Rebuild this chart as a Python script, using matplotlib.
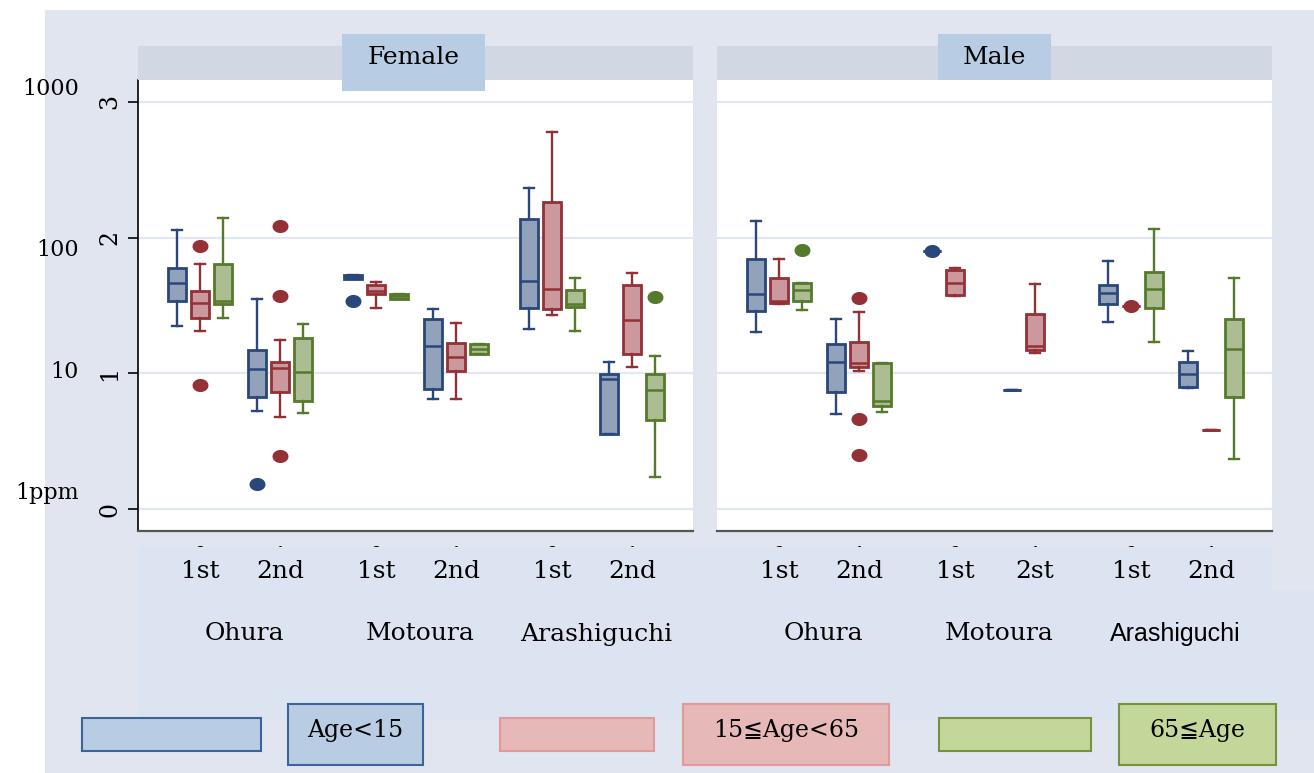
import matplotlib.pyplot as plt
from matplotlib.patches import Rectangle
from matplotlib.transforms import blended_transform_factory
import numpy as np

# concentrations are log10(ppm); each box is (whisker low, q1, median, q3, whisker high)
sites = ["Ohura", "Motoura", "Arashiguchi"]
periods_female = ["1st", "2nd", "1st", "2nd", "1st", "2nd"]
periods_male = ["1st", "2nd", "1st", "2st", "1st", "2nd"]
group_ticks = ["0", "1", "0", "1", "0", "1"]
age_labels = ["Age<15", "15≦Age<65", "65≦Age"]
ppm_labels = ["1000", "100", "10", "1ppm"]

female_young = [(1.351, 1.535, 1.668, 1.774, 2.054),
                (0.722, 0.828, 1.030, 1.172, 1.545),
                (1.695, 1.695, 1.710, 1.725, 1.725),
                (0.811, 0.884, 1.201, 1.398, 1.476),
                (1.324, 1.482, 1.681, 2.140, 2.366),
                (0.550, 0.550, 0.958, 0.997, 1.081)]
female_young_out = [[], [0.182], [1.533], [], [], []]

female_adult = [(1.314, 1.406, 1.516, 1.609, 1.804),
                (0.681, 0.865, 1.042, 1.081, 1.246),
                (1.479, 1.585, 1.609, 1.653, 1.676),
                (0.811, 1.015, 1.123, 1.226, 1.373),
                (1.430, 1.472, 1.624, 2.261, 2.777),
                (1.044, 1.140, 1.393, 1.653, 1.740)]
female_adult_out = [[1.939, 0.914], [2.086, 1.572, 0.388], [], [], [], []]

female_old = [(1.406, 1.513, 1.535, 1.804, 2.143),
              (0.710, 0.798, 1.012, 1.258, 1.364),
              (1.550, 1.550, 1.570, 1.587, 1.587),
              (1.142, 1.142, 1.179, 1.216, 1.216),
              (1.310, 1.487, 1.511, 1.617, 1.700),
              (0.233, 0.658, 0.879, 0.997, 1.125)]
female_old_out = [[], [], [], [], [], [1.565]]

male_young = [(1.307, 1.459, 1.585, 1.840, 2.121),
              (0.700, 0.862, 1.086, 1.214, 1.403),
              (1.902, 1.902, 1.902, 1.902, 1.902),
              (0.879, 0.879, 0.879, 0.879, 0.879),
              (1.378, 1.511, 1.592, 1.651, 1.828),
              (0.890, 0.899, 0.993, 1.081, 1.162)]
male_young_out = [[], [], [1.902], [], [], []]

male_adult = [(1.511, 1.521, 1.535, 1.705, 1.845),
              (1.019, 1.044, 1.078, 1.231, 1.454),
              (1.568, 1.577, 1.668, 1.762, 1.776),
              (1.147, 1.172, 1.204, 1.435, 1.658),
              (1.494, 1.494, 1.494, 1.494, 1.494),
              (0.582, 0.582, 0.582, 0.582, 0.582)]
male_adult_out = [[], [1.553, 0.666, 0.400], [], [], [1.494], []]

male_old = [(1.465, 1.535, 1.612, 1.666, 1.666),
            (0.717, 0.761, 0.794, 1.076, 1.076),
            None,
            None,
            (1.229, 1.484, 1.624, 1.749, 2.062),
            (0.366, 0.828, 1.177, 1.398, 1.705)]
male_old_out = [[1.911], [], [], [], [], []]

edge = ["#29477a", "#933137", "#557a2b"]
fill = ["#93a2bb", "#cb999d", "#acbc93"]
leg_fill = ["#b8cce4", "#e6b8b7", "#c4d79b"]
leg_edge = ["#3d6499", "#e09a9a", "#76923c"]
bg = "#e1e5ef"
label_bg = "#dbe4f0"
strip = "#d1d8e4"
serif = ["DejaVu Serif", "DejaVu Sans", "Noto Sans CJK JP"]

W, H = 1314, 773
fig = plt.figure(figsize=(W / 100, H / 100), dpi=100)
fig.patch.set_facecolor("white")


def px_rect(x0, y0, x1, y1, **kw):
    r = Rectangle((x0 / W, 1 - y1 / H), (x1 - x0) / W, (y1 - y0) / H,
                  transform=fig.transFigure, **kw)
    fig.add_artist(r)
    return r


def px_text(x, y, s, **kw):
    return fig.text(x / W, 1 - y / H, s, **kw)


px_rect(45, 10, W, H, facecolor=bg, edgecolor="none", zorder=-10)

# layout of the six site/period groups, three age boxes per group
group_pos = np.array([2.70, 6.17, 10.35, 13.83, 18.00, 21.48])
offsets = [-1, 0, 1]

t = np.linspace(0, 2 * np.pi, 41)
dot = np.column_stack([np.cos(t), 0.8 * np.sin(t)])


def draw_panel(ax, boxes, outs):
    for k in range(3):
        recs, pos = [], []
        for g in range(6):
            s = boxes[k][g]
            if s is None:
                continue
            lo, q1, med, q3, hi = s
            recs.append(dict(whislo=lo, q1=q1, med=med, q3=q3, whishi=hi,
                             fliers=outs[k][g]))
            pos.append(group_pos[g] + offsets[k])
        ax.bxp(recs, positions=pos, widths=0.78, capwidths=0.46,
               patch_artist=True, manage_ticks=False,
               boxprops=dict(facecolor=fill[k], edgecolor=edge[k], linewidth=2),
               whiskerprops=dict(color=edge[k], linewidth=1.7),
               capprops=dict(color=edge[k], linewidth=1.7),
               medianprops=dict(color=edge[k], linewidth=1.8),
               flierprops=dict(marker=dot, markersize=10.5,
                               markerfacecolor=edge[k], markeredgecolor=edge[k]))
    ax.set_xlim(0, 555 / 23)
    ax.set_ylim(-0.162, 3.162)
    ax.set_yticks([0, 1, 2, 3])
    ax.yaxis.grid(True, color="#e2e7f1", linewidth=1.6)
    ax.set_axisbelow(True)
    # the 0/1 codes sit mostly under the label block, only their tops show
    ax.set_xticks(group_pos)
    ax.set_xticklabels(group_ticks, fontsize=17, family=serif)
    ax.tick_params(axis="x", length=0, pad=11)
    for side in ["top", "right"]:
        ax.spines[side].set_visible(False)
    ax.spines["bottom"].set_color("#555555")
    ax.spines["bottom"].set_linewidth(1.6)


axF = fig.add_axes([138 / W, 1 - 531 / H, 555 / W, 451 / H])
axM = fig.add_axes([717 / W, 1 - 531 / H, 555 / W, 451 / H])

draw_panel(axF, [female_young, female_adult, female_old],
           [female_young_out, female_adult_out, female_old_out])
draw_panel(axM, [male_young, male_adult, male_old],
           [male_young_out, male_adult_out, male_old_out])

axF.spines["left"].set_color("black")
axF.spines["left"].set_linewidth(1.2)
axF.set_yticklabels(["0", "1", "2", "3"], rotation=90, va="center",
                    fontsize=17, family=serif)
axF.tick_params(axis="y", length=7, width=1.2, pad=5)
axM.spines["left"].set_visible(False)
axM.tick_params(axis="y", left=False, labelleft=False)

# panel headers
for x0, x1 in [(138, 693), (717, 1272)]:
    px_rect(x0, 46, x1, 80, facecolor=strip, edgecolor="none", zorder=1)
px_rect(342, 34, 485, 91, facecolor=leg_fill[0], edgecolor="none", zorder=2)
px_rect(938, 34, 1051, 80, facecolor=leg_fill[0], edgecolor="none", zorder=2)
px_text(413.5, 58, "Female", ha="center", va="center", fontsize=18,
        family=serif, zorder=3)
px_text(994.5, 58, "Male", ha="center", va="center", fontsize=18,
        family=serif, zorder=3)

# ppm scale on the left
for y, s in zip([89, 250, 372, 493], ppm_labels):
    px_text(79, y, s, ha="right", va="center", fontsize=16, family=serif)

# category label block below the panels
px_rect(138, 547, 1272, 591, facecolor=label_bg, edgecolor="none", zorder=1)
px_rect(138, 590, W, 719, facecolor=label_bg, edgecolor="none", zorder=1)

for ax, periods, site_font in [(axF, periods_female, [serif, serif, serif]),
                               (axM, periods_male, [serif, serif, ["Liberation Sans"]])]:
    tr = blended_transform_factory(ax.transData, fig.transFigure)
    for g in range(6):
        fig.text(group_pos[g], 1 - 572 / H, periods[g], transform=tr,
                 ha="center", va="center", fontsize=18, family=serif, zorder=3)
    for s in range(3):
        xc = group_pos[2 * s:2 * s + 2].mean() + 0.2
        fig.text(xc, 1 - 634 / H, sites[s], transform=tr, ha="center",
                 va="center", fontsize=18, family=site_font[s], zorder=3)

# legend
legend_keys = [(82, 261), (500, 654), (939, 1091)]
legend_boxes = [(288, 423), (683, 889), (1119, 1276)]
for k in range(3):
    kx0, kx1 = legend_keys[k]
    px_rect(kx0, 718, kx1, 751, facecolor=leg_fill[k], edgecolor=leg_edge[k],
            linewidth=1.5, zorder=2)
    bx0, bx1 = legend_boxes[k]
    px_rect(bx0, 704, bx1, 765, facecolor=leg_fill[k], edgecolor=leg_edge[k],
            linewidth=1.5, zorder=2)
    px_text((bx0 + bx1) / 2, 731, age_labels[k], ha="center", va="center",
            fontsize=17, family=serif, zorder=3)

fig.savefig("out.png", dpi=100, facecolor=fig.get_facecolor())
